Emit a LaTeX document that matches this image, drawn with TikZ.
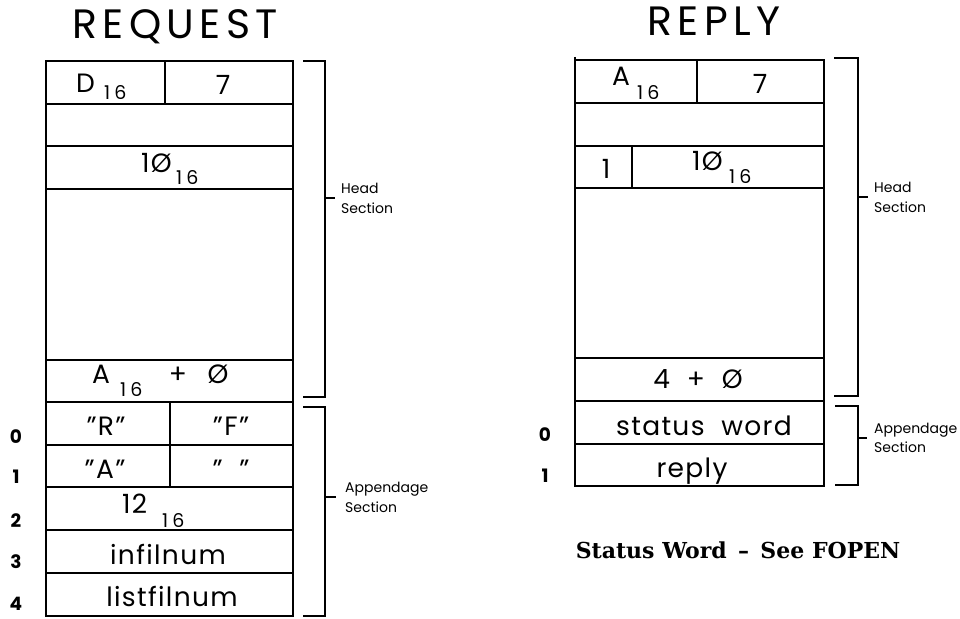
\documentclass[tikz,border=0pt]{standalone}
\usepackage{fontspec}
\setmainfont{Poppins}
\newfontfamily\slab{DejaVu Serif}
\newcommand\cellfont{\fontsize{26.5}{26.5}\selectfont\addfontfeature{LetterSpace=5}}
\newcommand\subfont{\fontsize{19}{19}\selectfont\addfontfeature{LetterSpace=22}}
\tikzset{
  box/.style={draw, line width=1.5pt},
  brk/.style={draw, line width=1.5pt},
  txt/.style={anchor=base, inner sep=0pt, font=\cellfont},
  txtw/.style={anchor=base west, inner sep=0pt, font=\cellfont},
  sub/.style={anchor=base west, inner sep=0pt, font=\subfont},
  idx/.style={anchor=base, inner sep=0pt, font=\fontsize{18.5}{18.5}\selectfont\bfseries},
  lbl/.style={anchor=base west, inner sep=0pt, font=\fontsize{14}{14}\selectfont},
  title/.style={anchor=base, inner sep=0pt, font=\fontsize{41}{41}\selectfont\addfontfeature{LetterSpace=13}}
}
\begin{document}
\begin{tikzpicture}[x=1pt,y=-1pt]
\useasboundingbox (0,0) rectangle (960,618);
% ---------- REQUEST ----------
\node[title] (treq) at (175,38) {REQUEST};
\draw[box] (46,61) rectangle (293,616);
\foreach \y in {104,146,189,360,402,445,487,530,573} \draw[box] (46,\y) -- (293,\y);
\draw[box] (165,61) -- (165,104);
\draw[box] (170,402) -- (170,487);
\node[txtw] (qd) at (76,92) {D};
\node[sub] (qd16) at (104,99) {16};
\node[txt] (q7) at (223,94) {7};
\node[txtw] (q10) at (141,172) {1Ø};
\node[sub] (q1016) at (176,184) {16};
\node[txtw] (qa) at (92,383) {A};
\node[sub] (qa16) at (120,396) {16};
\node[txt] (qplus) at (178,383) {+};
\node[txt] (qzero) at (218,383) {Ø};
\node[txt] (qr) at (106,435) {"R"};
\node[txt] (qf) at (231,435) {"F"};
\node[txt] (qaa) at (105,478) {"A"};
\node[txt] (qsp) at (231,478) {"\ \ "};
\node[txtw] (q12) at (122,513) {12};
\node[sub] (q1216) at (162,527) {16};
\node[txt] (qin) at (168,564) {infilnum};
\node[txt] (qlist) at (172,606) {listfilnum};
\foreach \n/\y in {0/443,1/483,2/527,3/568,4/610} \node[idx] (qi\n) at (16,\y) {\n};
% brackets
\draw[brk] (303,61) -- (325,61) -- (325,397) -- (303,397);
\draw[brk] (325,198) -- (335,198);
\node[lbl] (qhead) at (341,193) {Head};
\node[lbl] (qhsec) at (341,213) {Section};
\draw[brk] (303,407) -- (325,407) -- (325,616) -- (303,616);
\draw[brk] (325,497) -- (336,497);
\node[lbl] (qapp) at (345,492) {Appendage};
\node[lbl] (qasec) at (345,512) {Section};
% ---------- REPLY ----------
\node[title] (trep) at (714,36) {REPLY};
\draw[box] (575,60) rectangle (824,486);
\draw[box] (575,57) -- (575,487);
\foreach \y in {103,146,188,358,401,444} \draw[box] (575,\y) -- (824,\y);
\draw[box] (697,60) -- (697,103);
\draw[box] (632,146) -- (632,188);
\node[txtw] (pa) at (612,85) {A};
\node[sub] (pa16) at (637,99) {16};
\node[txt] (p7) at (760,93) {7};
\node[txt] (p1) at (606,178) {1};
\node[txtw] (p10) at (692,170) {1Ø};
\node[sub] (p1016) at (729,183) {16};
\node[txt] (p4) at (698,388) {4 \ + \ Ø};
\node[txt] (pst) at (704,435) {status\ \ word};
\node[txt] (prep) at (692,477) {reply};
\foreach \n/\y in {0/441,1/482} \node[idx] (pi\n) at (545,\y) {\n};
\draw[brk] (834,58) -- (858,58) -- (858,396) -- (834,396);
\draw[brk] (858,197) -- (868,197);
\node[lbl] (phead) at (874,192) {Head};
\node[lbl] (phsec) at (874,212) {Section};
\draw[brk] (835,406) -- (858,406) -- (858,485) -- (835,485);
\draw[brk] (858,438) -- (867,438);
\node[lbl] (papp) at (874,433) {Appendage};
\node[lbl] (pasec) at (874,452) {Section};
\node[anchor=base, inner sep=0pt, font=\slab\bfseries\fontsize{22}{22}\selectfont] (note) at (738,558) {Status Word \,–\, See FOPEN};
\end{tikzpicture}
\end{document}
